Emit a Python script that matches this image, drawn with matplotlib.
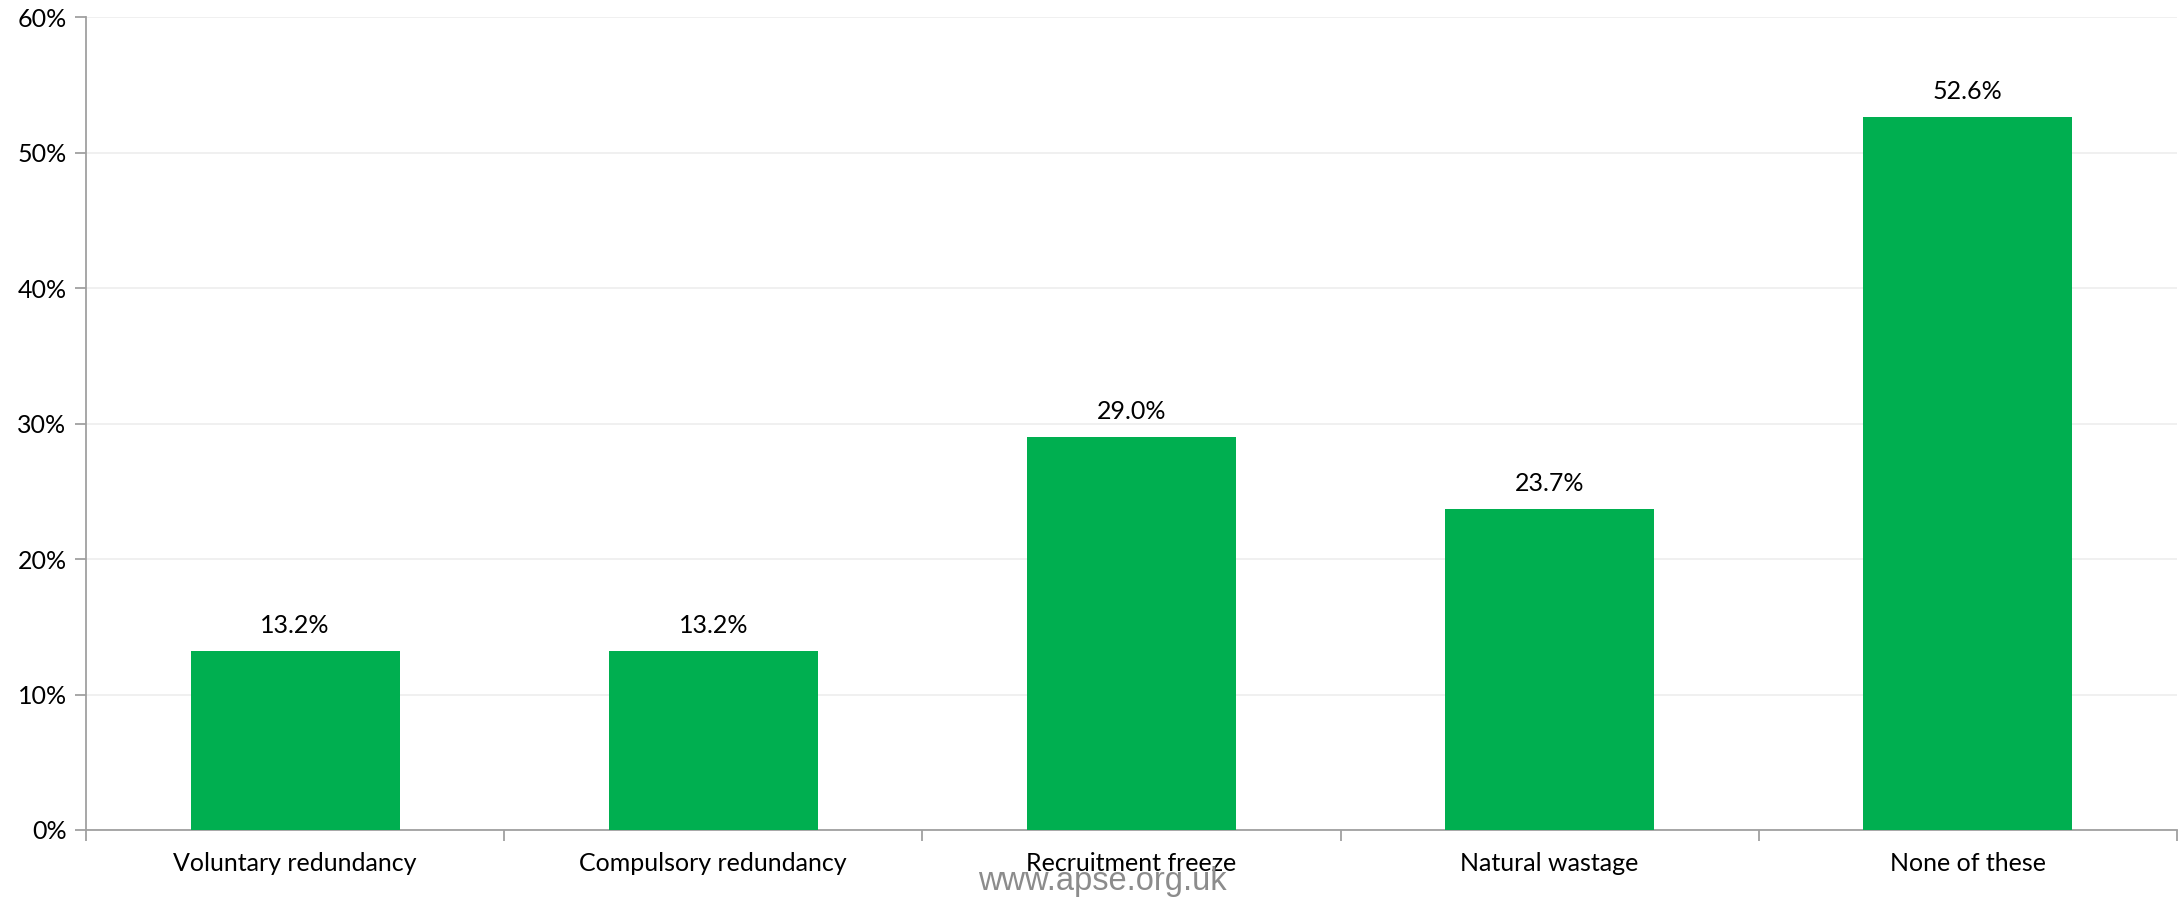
import matplotlib.pyplot as plt
import numpy as np

categories = ['Voluntary redundancy', 'Compulsory redundancy', 'Recruitment freeze',
              'Natural wastage', 'None of these']
values = [13.2, 13.2, 29.0, 23.7, 52.6]
yticks = [0, 10, 20, 30, 40, 50, 60]

plt.rcParams['font.family'] = ['Lato', 'DejaVu Sans']

fig = plt.figure(figsize=(21.78, 9), dpi=100)
ax = fig.add_axes([0.0395, 0.0778, 0.9600, 0.9032])

x = np.arange(len(categories))
bars = ax.bar(x, values, width=0.5, color='#00AF50', zorder=3)

for b, v in zip(bars, values):
    ax.annotate('%.1f%%' % v, (b.get_x() + b.get_width() / 2, v),
                xytext=(0, 10), textcoords='offset points',
                ha='center', va='bottom', fontsize=18, color='black')

ax.set_xlim(-0.5, len(categories) - 0.5)
ax.set_ylim(0, 60)
ax.set_yticks(yticks)
ax.set_yticklabels(['%d%%' % t for t in yticks], fontsize=18)
ax.yaxis.grid(True, color='#eeeeee', linewidth=1.2, zorder=0)

# categories are labelled at the centre, ticks sit on the boundaries
ax.set_xticks(x)
ax.set_xticklabels(categories, fontsize=18)
ax.tick_params(axis='x', length=0, pad=16)
ax.set_xticks(np.arange(len(categories) + 1) - 0.5, minor=True)
ax.tick_params(axis='x', which='minor', length=8, color='#a0a0a0', width=1.3)
ax.tick_params(axis='y', length=8, color='#a0a0a0', width=1.3, pad=6)

for s in ['top', 'right']:
    ax.spines[s].set_visible(False)
for s in ['left', 'bottom']:
    ax.spines[s].set_color('#a0a0a0')
    ax.spines[s].set_linewidth(1.3)

fig.text(0.506, 0.003, 'www.apse.org.uk', ha='center', va='bottom',
         fontsize=23.5, color='#8c8c8c', family='Liberation Sans')

fig.savefig('out.png', dpi=100)
